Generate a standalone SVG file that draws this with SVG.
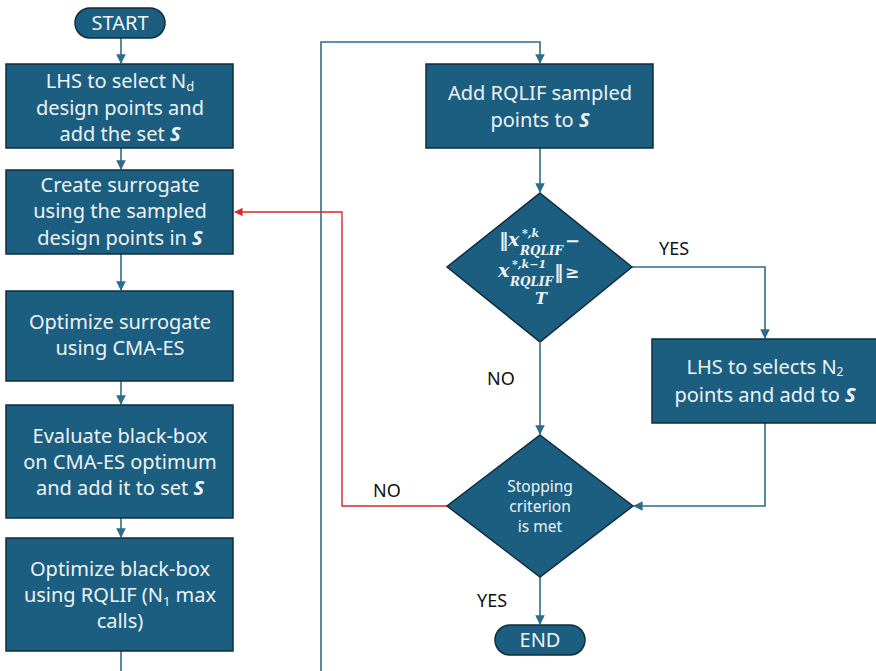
<svg xmlns="http://www.w3.org/2000/svg" width="876" height="671" viewBox="0 0 876 671">
<defs>
<style>
.box{fill:#1b5e80;stroke:#0e2c3f;stroke-width:1.5}
.t{font-family:"Noto Sans","Open Sans",sans-serif;font-size:20px;fill:#eef3f6;text-anchor:middle}
.ts{font-family:"Noto Sans","Open Sans",sans-serif;font-size:15.5px;fill:#eef3f6;text-anchor:middle}
.lbl{font-family:"Noto Sans","Open Sans",sans-serif;font-size:18px;fill:#111}
.m{font-family:"DejaVu Serif","Liberation Serif",serif;font-weight:bold;font-style:italic;fill:#eef3f6}
.edge{fill:none;stroke:#2e6c8c;stroke-width:1.6}
.red{fill:none;stroke:#d42a2a;stroke-width:1.4}
</style>
<marker id="ab" viewBox="0 0 10 10" refX="9" refY="5" markerWidth="6" markerHeight="6" orient="auto"><path d="M0,0 L10,5 L0,10 z" fill="#2e6c8c"/></marker>
<marker id="ar" viewBox="0 0 10 10" refX="9" refY="5" markerWidth="6" markerHeight="6" orient="auto"><path d="M0,0 L10,5 L0,10 z" fill="#d42a2a"/></marker>
</defs>
<rect width="876" height="671" fill="#fff"/>
<g id="connectors">
<path class="edge" d="M121,38 V63" marker-end="url(#ab)"/>
<path class="edge" d="M121,148 V169" marker-end="url(#ab)"/>
<path class="edge" d="M121,254 V290" marker-end="url(#ab)"/>
<path class="edge" d="M121,381 V404" marker-end="url(#ab)"/>
<path class="edge" d="M121,518 V537" marker-end="url(#ab)"/>
<path class="edge" d="M121,651 V671"/>
<path class="edge" d="M321,671 V42 H540 V63" marker-end="url(#ab)"/>
<path class="edge" d="M540,148 V192" marker-end="url(#ab)"/>
<path class="edge" d="M540,343 V434" marker-end="url(#ab)"/>
<path class="edge" d="M632,267 H765 V338" marker-end="url(#ab)"/>
<path class="edge" d="M765,423 V506 H634" marker-end="url(#ab)"/>
<path class="edge" d="M540,577 V624" marker-end="url(#ab)"/>
<path class="red" d="M447,506 H342 V212 H235" marker-end="url(#ar)"/>
</g>
<g id="labels">
<text class="lbl" x="659" y="255">YES</text>
<text class="lbl" x="487" y="385">NO</text>
<text class="lbl" x="373" y="497">NO</text>
<text class="lbl" x="477" y="607">YES</text>
</g>
<g id="start">
<rect class="box" x="75" y="8" width="90" height="30" rx="15"/>
<text class="t" x="120" y="30">START</text>
</g>
<g id="lhs1">
<rect class="box" x="6" y="64" width="227" height="84"/>
<text class="t" x="120" y="88">LHS to select N<tspan font-size="13" dy="3">d</tspan></text>
<text class="t" x="120" y="115">design points and</text>
<text class="t" x="120" y="141">add the set <tspan font-weight="bold" font-style="italic">S</tspan></text>
</g>
<g id="surrogate">
<rect class="box" x="6" y="170" width="227" height="84"/>
<text class="t" x="120" y="192">Create surrogate</text>
<text class="t" x="120" y="218">using the sampled</text>
<text class="t" x="120" y="245">design points in <tspan font-weight="bold" font-style="italic">S</tspan></text>
</g>
<g id="optsur">
<rect class="box" x="6" y="291" width="227" height="90"/>
<text class="t" x="120" y="329">Optimize surrogate</text>
<text class="t" x="120" y="355">using CMA-ES</text>
</g>
<g id="evaluate">
<rect class="box" x="6" y="405" width="227" height="113"/>
<text class="t" x="120" y="443">Evaluate black-box</text>
<text class="t" x="120" y="469">on  CMA-ES optimum</text>
<text class="t" x="120" y="495">and add it to set <tspan font-weight="bold" font-style="italic">S</tspan></text>
</g>
<g id="optbb">
<rect class="box" x="6" y="538" width="227" height="113"/>
<text class="t" x="120" y="576">Optimize black-box</text>
<text class="t" x="120" y="602">using RQLIF (N<tspan font-size="13" dy="4">1</tspan><tspan dy="-4"> max</tspan></text>
<text class="t" x="120" y="628">calls)</text>
</g>
<g id="addrqlif">
<rect class="box" x="426" y="64" width="227" height="84"/>
<text class="t" x="540" y="100">Add RQLIF sampled</text>
<text class="t" x="540" y="127">points to <tspan font-weight="bold" font-style="italic">S</tspan></text>
</g>
<g id="decision1">
<path class="box" d="M540,193 L632,267 L540,342 L447,267 Z"/>
<text class="m" font-size="19" font-style="normal" font-weight="normal" x="499" y="246">‖</text>
<text class="m" font-size="19" x="508" y="246">x</text>
<text class="m" font-size="11" x="522" y="237">*,k</text>
<text class="m" font-size="12" x="520" y="255">RQLIF</text>
<text class="m" font-size="18" font-style="normal" font-weight="normal" x="565" y="247">−</text>
<text class="m" font-size="19" x="498" y="277">x</text>
<text class="m" font-size="11" x="512" y="268">*,k−1</text>
<text class="m" font-size="12" x="510" y="286">RQLIF</text>
<text class="m" font-size="19" font-style="normal" font-weight="normal" x="554" y="278">‖</text>
<text class="m" font-size="17" font-style="normal" font-weight="normal" x="565" y="278">≥</text>
<text class="m" font-size="16" x="535" y="304">T</text>
</g>
<g id="lhs2">
<rect class="box" x="652" y="339" width="226" height="84"/>
<text class="t" x="765" y="374">LHS to selects N<tspan font-size="12" dy="2">2</tspan></text>
<text class="t" x="765" y="402">points and add to <tspan font-weight="bold" font-style="italic">S</tspan></text>
</g>
<g id="decision2">
<path class="box" d="M540,435 L633,506 L540,577 L447,506 Z"/>
<text class="ts" x="540" y="492">Stopping</text>
<text class="ts" x="540" y="512">criterion</text>
<text class="ts" x="540" y="532">is met</text>
</g>
<g id="end">
<rect class="box" x="495" y="625" width="90" height="30" rx="15"/>
<text class="t" x="540" y="647">END</text>
</g>
</svg>
